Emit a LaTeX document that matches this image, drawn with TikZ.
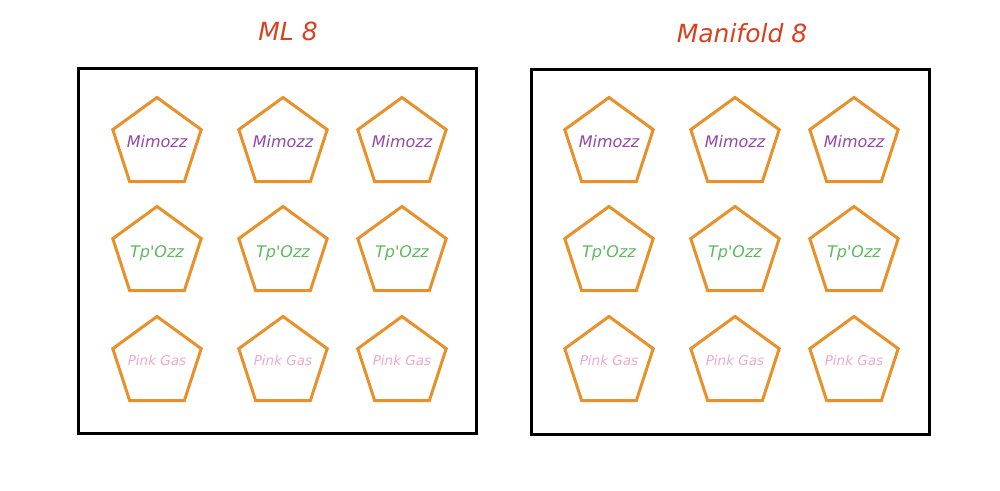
\documentclass[tikz,border=0pt]{standalone}
\usepackage{fontspec}
\setmainfont{DejaVu Sans}
\usetikzlibrary{shapes.geometric,positioning}
\definecolor{titlered}{HTML}{D9411E}
\definecolor{penorange}{HTML}{E8902A}
\definecolor{mimpurple}{HTML}{9446A8}
\definecolor{tpgreen}{HTML}{5CB85C}
\definecolor{gaspink}{HTML}{F0A8C8}
\begin{document}
\begin{tikzpicture}[x=1pt,y=-1pt,font=\itshape,
 frame/.style={draw=black,line width=3pt,minimum width=398pt,minimum height=365pt,inner sep=0pt},
 penta/.style={draw=penorange,line width=3pt,regular polygon,regular polygon sides=5,minimum size=93pt,inner sep=0pt},
 ttl/.style={text=titlered,font=\itshape\fontsize{25}{28}\selectfont},
 lbl/.style={font=\itshape\fontsize{16}{18}\selectfont}]
\useasboundingbox (0,0) rectangle (1000,490);
\node[frame] (mlbox) at (277,251) {};
\node[frame] (mfbox) at (730.5,251.5) {};
\node[ttl] (mltitle) at (288,31) {ML 8};
\node[ttl] (mftitle) at (742,33) {Manifold 8};
\foreach \bx/\bid in {0/ml,452/mf}{
\foreach \cx/\cid in {157/a,283/b,402/c}{
\node[penta] (\bid-m\cid) at (\cx+\bx,144) {};
\node[lbl,text=mimpurple] (\bid-m\cid-t) at ([yshift=2pt]\bid-m\cid.center) {Mimozz};
\node[penta] (\bid-t\cid) at (\cx+\bx,253) {};
\node[lbl,text=tpgreen] (\bid-t\cid-t) at (\bid-t\cid.center) {Tp\textquotesingle Ozz};
\node[penta] (\bid-p\cid) at (\cx+\bx,363) {};
\node[lbl,text=gaspink,font=\itshape\fontsize{13.5}{15}\selectfont] (\bid-p\cid-t) at ([yshift=3pt]\bid-p\cid.center) {Pink Gas};}}
\end{tikzpicture}
\end{document}
